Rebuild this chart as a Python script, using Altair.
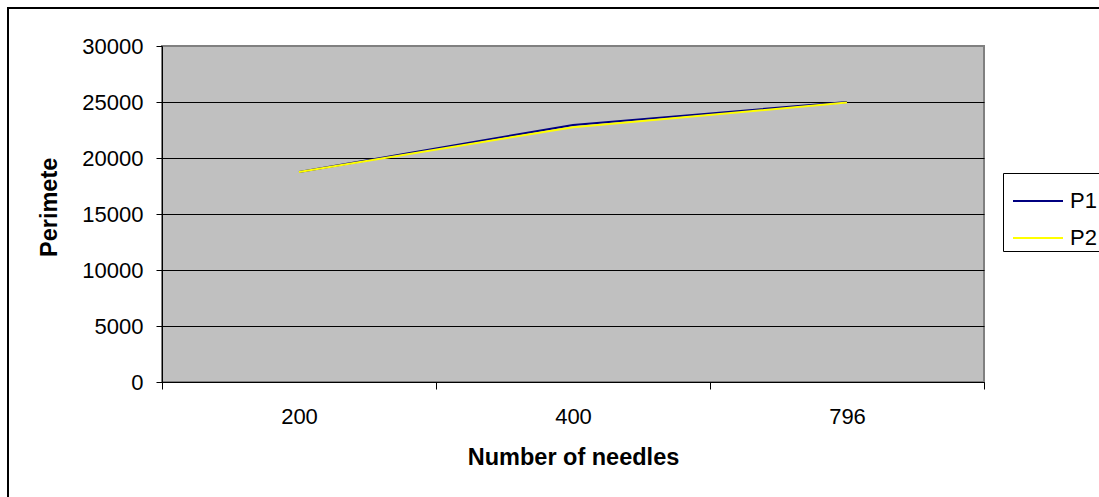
import altair as alt
import pandas as pd

needles = ["200", "400", "796"]
p1 = [18750, 22950, 25000]
p2 = [18750, 22750, 24950]
series_names = ["P1", "P2"]
series_colors = ["#000080", "#FFFF00"]
y_ticks = [0, 5000, 10000, 15000, 20000, 25000, 30000]
x_title = "Number of needles"
y_title = "Perimeter"

rows = []
for n, a, b in zip(needles, p1, p2):
    rows.append({"needles": n, "series": "P1", "value": a})
    rows.append({"needles": n, "series": "P2", "value": b})
df = pd.DataFrame(rows)

FONT = "Liberation Sans"
W, H = 822, 336

lines = alt.Chart(df).mark_line(strokeWidth=2).encode(
    x=alt.X(
        "needles:N",
        sort=needles,
        scale=alt.Scale(type="band", paddingInner=0, paddingOuter=0),
        axis=alt.Axis(
            title=x_title,
            tickBand="extent",
            labelAngle=0,
            grid=False,
            domainColor="black",
            tickColor="black",
            tickSize=7,
            labelPadding=17,
            labelFont=FONT,
            labelFontSize=22,
            labelColor="black",
            titleFont=FONT,
            titleFontSize=23.5,
            titleFontWeight="bold",
            titleColor="black",
            titlePadding=18,
        ),
    ),
    y=alt.Y(
        "value:Q",
        scale=alt.Scale(domain=[0, 30000], nice=False),
        axis=alt.Axis(
            values=y_ticks,
            title=None,
            format="d",
            grid=True,
            gridColor={"condition": {"test": "datum.value === 30000", "value": "#808080"}, "value": "black"},
            gridWidth=1,
            domainColor="black",
            tickColor="black",
            tickSize=6,
            labelPadding=13,
            labelFont=FONT,
            labelFontSize=22,
            labelColor="black",
        ),
    ),
    color=alt.Color(
        "series:N",
        scale=alt.Scale(domain=series_names, range=series_colors),
        legend=alt.Legend(
            title=None,
            orient="none",
            legendX=841,
            legendY=127,
            strokeColor="black",
            fillColor="white",
            padding=2,
            symbolOffset=7,
            symbolType="stroke",
            symbolSize=2500,
            symbolStrokeWidth=2,
            labelFont=FONT,
            labelFontSize=22,
            labelColor="black",
            labelOffset=6,
            rowPadding=-12,
        ),
    ),
)

one = pd.DataFrame({"t": [y_title]})

ytitle = alt.Chart(one).mark_text(
    angle=270,
    align="left",
    baseline="alphabetic",
    font=FONT,
    fontSize=23.5,
    fontWeight="bold",
    color="black",
    limit=101,
    ellipsis="\u200b",
).encode(
    text="t:N",
    x=alt.value(-105),
    y=alt.value(211),
)

border = alt.Chart(one).mark_rect(
    fillOpacity=0, stroke="black", strokeWidth=2
).encode(
    x=alt.value(-154),
    y=alt.value(-38),
    x2=alt.value(1200),
    y2=alt.value(700),
)

chart = alt.layer(lines, ytitle, border).properties(
    width=W,
    height=H,
    autosize=alt.AutoSizeParams(type="none"),
    padding={"left": 162, "top": 46, "right": 115, "bottom": 115},
    background="white",
).configure_view(
    fill="#C0C0C0", stroke="#808080", strokeWidth=2
)

chart.save("out.html", embed_options={"renderer": "svg", "actions": False})
